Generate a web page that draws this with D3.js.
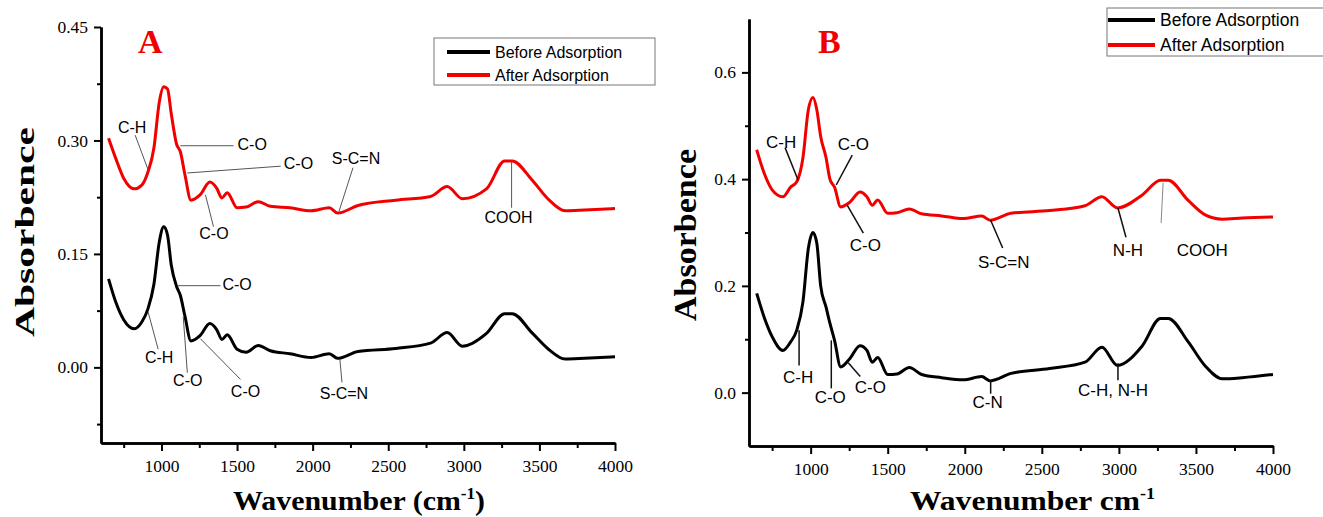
<!DOCTYPE html>
<html lang="en">
  <head>
    <meta charset="UTF-8" />
    <title>FTIR spectra before and after adsorption</title>
    <script src="https://cdnjs.cloudflare.com/ajax/libs/d3/7.8.5/d3.min.js"></script>
    <style>
      body { margin: 0; background: #fff; }
      .note { font-family: "Liberation Sans", Arial, sans-serif; }
    </style>
  </head>
  <body>
    <figure id="chart" style="margin:0"></figure>

    <script>
      /** Data (wavenumber in cm-1, absorbance) */
      const wavenumber = [650, 700, 750, 820, 870, 910, 950, 985, 1015, 1040, 1065, 1100, 1125, 1155, 1195, 1255, 1320, 1365, 1400, 1435, 1500, 1560, 1640, 1720, 1850, 1990, 2110, 2165, 2300, 2550, 2780, 2890, 2990, 3150, 3270, 3320, 3450, 3560, 3670, 3800, 4000];

      const beforeA = [0.117, 0.085, 0.063, 0.051, 0.060, 0.077, 0.110, 0.165, 0.186, 0.175, 0.135, 0.107, 0.095, 0.068, 0.035, 0.042, 0.058, 0.050, 0.037, 0.043, 0.024, 0.020, 0.029, 0.022, 0.018, 0.013, 0.018, 0.012, 0.021, 0.025, 0.032, 0.046, 0.028, 0.045, 0.071, 0.071, 0.046, 0.024, 0.011, 0.012, 0.014];
      const afterA = [0.303, 0.275, 0.250, 0.236, 0.241, 0.258, 0.290, 0.350, 0.371, 0.368, 0.335, 0.295, 0.285, 0.255, 0.221, 0.228, 0.245, 0.237, 0.224, 0.231, 0.211, 0.212, 0.219, 0.213, 0.211, 0.207, 0.211, 0.204, 0.214, 0.221, 0.226, 0.239, 0.223, 0.236, 0.273, 0.273, 0.248, 0.222, 0.207, 0.208, 0.210];
      const beforeB = [0.186, 0.140, 0.105, 0.079, 0.095, 0.117, 0.170, 0.270, 0.300, 0.280, 0.200, 0.160, 0.130, 0.098, 0.048, 0.064, 0.088, 0.079, 0.057, 0.066, 0.034, 0.035, 0.047, 0.034, 0.028, 0.024, 0.030, 0.022, 0.036, 0.045, 0.057, 0.085, 0.051, 0.087, 0.139, 0.139, 0.095, 0.050, 0.026, 0.028, 0.034];
      const afterB = [0.455, 0.410, 0.380, 0.367, 0.385, 0.395, 0.440, 0.530, 0.553, 0.530, 0.480, 0.440, 0.400, 0.385, 0.348, 0.357, 0.376, 0.367, 0.351, 0.361, 0.336, 0.337, 0.344, 0.335, 0.331, 0.326, 0.331, 0.323, 0.336, 0.341, 0.350, 0.367, 0.346, 0.370, 0.398, 0.398, 0.360, 0.333, 0.325, 0.327, 0.329];

      const seriesNames = ["Before Adsorption", "After Adsorption"];
      const xTicks = [1000, 1500, 2000, 2500, 3000, 3500, 4000];
      const xMinorTicks = [750, 1250, 1750, 2250, 2750, 3250, 3750];
      const yTicksA = [0, 0.15, 0.30, 0.45];
      const yMinorA = [-0.075, 0.075, 0.225, 0.375];
      const yTicksB = [0, 0.2, 0.4, 0.6];
      const yMinorB = [0.1, 0.3, 0.5];

      /** Band labels: text, [wavenumber, absorbance] on the curve, end of leader, text centre */
      const notesA = [
        ["C-H", [912, 0.261], [826, 0.307], [806, 0.317], "middle", "after"],
        ["C-O", [1125, 0.293], [1477, 0.293], [1503, 0.294], "start", "after"],
        ["C-O", [1171, 0.257], [1789, 0.266], [1809, 0.270], "start", "after"],
        ["C-O", [1291, 0.228], [1344, 0.186], [1347, 0.177], "middle", "after"],
        ["S-C=N", [2174, 0.206], [2267, 0.264], [2287, 0.276], "middle", "after"],
        ["COOH", [3316, 0.272], [3316, 0.211], [3296, 0.198], "middle", "after"],
        ["C-O", [1105, 0.108], [1390, 0.108], [1403, 0.109], "start", "before"],
        ["C-H", [912, 0.073], [978, 0.024], [985, 0.013], "middle", "before"],
        ["C-O", [1144, 0.067], [1171, -0.007], [1174, -0.018], "middle", "before"],
        ["C-O", [1257, 0.038], [1523, -0.016], [1556, -0.032], "middle", "before"],
        ["S-C=N", [2180, 0.011], [2194, -0.020], [2207, -0.034], "middle", "before"],
      ];
      const notesB = [
        ["C-H", [919, 0.398], [834, 0.459], [808, 0.468], "middle", "after"],
        ["C-O", [1166, 0.389], [1270, 0.445], [1277, 0.464], "middle", "after"],
        ["C-O", [1238, 0.351], [1342, 0.299], [1355, 0.276], "middle", "after"],
        ["S-C=N", [2168, 0.323], [2246, 0.271], [2253, 0.244], "middle", "after"],
        ["N-H", [2994, 0.346], [3046, 0.291], [3059, 0.267], "middle", "after"],
        ["COOH", [3287, 0.393], [3274, 0.318], [3541, 0.267], "middle", "cooh"],
        ["C-H", [925, 0.117], [925, 0.051], [919, 0.028], "middle", "before"],
        ["C-O", [1134, 0.098], [1134, 0.008], [1127, -0.009], "middle", "before"],
        ["C-O", [1244, 0.056], [1322, 0.030], [1387, 0.009], "middle", "before"],
        ["C-N", [2168, 0.023], [2168, -0.002], [2148, -0.019], "middle", "before"],
        ["C-H, N-H", [2994, 0.055], [2994, 0.023], [2962, 0.004], "middle", "before"],
      ];

      /** Layout */
      const width = 1323;
      const height = 517;
      const red = "#f20000";
      const serif = "'Liberation Serif', 'Times New Roman', serif";

      const panels = [
        {
          name: "A", left: 101, right: 615, top: 27, bottom: 443,
          yDomain: [-0.1, 0.45], yTicks: yTicksA, yMinor: yMinorA, fmt: ".2f",
          before: beforeA, after: afterA, notes: notesA, noteSize: 16,
          letter: [138, 53], yTitle: [34, 232, 28, 210], xTitle: [233, 510, 252],
          xTitleText: ["Wavenumber (cm", "-1", ")"],
          legend: { x: 434, y: 38, w: 221, h: 47, line: [447, 490], text: 495, rows: [52, 75], size: 16 },
          leader: "#555", leaderW: 1,
        },
        {
          name: "B", left: 749, right: 1273, top: 19, bottom: 446,
          yDomain: [-0.1, 0.7], yTicks: yTicksB, yMinor: yMinorB, fmt: ".1f",
          before: beforeB, after: afterB, notes: notesB, noteSize: 17,
          letter: [818, 53], yTitle: [696, 235, 31, 172], xTitle: [910, 510, 245],
          xTitleText: ["Wavenumber cm", "-1", ""],
          legend: { x: 1107, y: 8, w: 240, h: 48, line: [1108, 1155], text: 1160, rows: [20, 45], size: 17.5 },
          leader: "#111", leaderW: 1.5,
        },
      ];

      const svg = d3
        .select("#chart")
        .append("svg")
        .attr("width", width)
        .attr("height", height);

      panels.forEach((p) => {
        const xScale = d3.scaleLinear().domain([600, 4000]).range([p.left, p.right]);
        const yScale = d3.scaleLinear().domain(p.yDomain).range([p.bottom, p.top]);
        const g = svg.append("g");

        /** Axes: minor ticks first, then major ticks with labels */
        g.append("g")
          .attr("transform", `translate(0, ${p.bottom})`)
          .call(d3.axisBottom(xScale).tickValues(xMinorTicks).tickSize(5).tickFormat("").tickSizeOuter(0));
        g.append("g")
          .attr("transform", `translate(0, ${p.bottom})`)
          .call(d3.axisBottom(xScale).tickValues(xTicks).tickSize(8).tickPadding(9).tickFormat(d3.format("d")).tickSizeOuter(0));
        g.append("g")
          .attr("transform", `translate(${p.left}, 0)`)
          .call(d3.axisLeft(yScale).tickValues(p.yMinor).tickSize(4).tickFormat("").tickSizeOuter(0));
        g.append("g")
          .attr("transform", `translate(${p.left}, 0)`)
          .call(d3.axisLeft(yScale).tickValues(p.yTicks).tickSize(7).tickPadding(6).tickFormat(d3.format(p.fmt)).tickSizeOuter(0));
        g.selectAll(".domain").attr("stroke", "#000").attr("stroke-width", 2.5);
        g.selectAll(".tick line").attr("stroke", "#000").attr("stroke-width", 2);
        g.selectAll(".tick text")
          .attr("font-family", serif)
          .attr("font-size", 17.5)
          .attr("fill", "#000");

        /** Spectra */
        const line = d3
          .line()
          .x((d) => xScale(d[0]))
          .y((d) => yScale(d[1]))
          .curve(d3.curveMonotoneX);
        g.append("path")
          .attr("d", line(d3.zip(wavenumber, p.before)))
          .attr("fill", "none")
          .attr("stroke", "#000")
          .attr("stroke-width", 3)
          .attr("stroke-linejoin", "round");
        g.append("path")
          .attr("d", line(d3.zip(wavenumber, p.after)))
          .attr("fill", "none")
          .attr("stroke", red)
          .attr("stroke-width", 3)
          .attr("stroke-linejoin", "round");

        /** Band labels */
        const notes = g.selectAll(".noteg").data(p.notes).enter().append("g");
        notes
          .append("line")
          .attr("x1", (d) => xScale(d[1][0]))
          .attr("y1", (d) => yScale(d[1][1]))
          .attr("x2", (d) => xScale(d[2][0]))
          .attr("y2", (d) => yScale(d[2][1]))
          .attr("stroke", (d) => (d[5] === "cooh" ? "#888" : p.leader))
          .attr("stroke-width", (d) => (d[5] === "cooh" ? 1 : p.leaderW));
        notes
          .append("text")
          .attr("class", "note")
          .attr("x", (d) => xScale(d[3][0]))
          .attr("y", (d) => yScale(d[3][1]))
          .attr("text-anchor", (d) => d[4])
          .attr("dominant-baseline", "central")
          .attr("font-size", p.noteSize)
          .text((d) => d[0]);

        /** Panel letter */
        g.append("text")
          .attr("x", p.letter[0])
          .attr("y", p.letter[1])
          .attr("font-family", serif)
          .attr("font-weight", "bold")
          .attr("font-size", 34)
          .attr("fill", red)
          .text(p.name);

        /** Axis titles */
        g.append("text")
          .attr("transform", `translate(${p.yTitle[0]}, ${p.yTitle[1]}) rotate(-90)`)
          .attr("text-anchor", "middle")
          .attr("font-family", serif)
          .attr("font-weight", "bold")
          .attr("font-size", p.yTitle[2])
          .attr("textLength", p.yTitle[3])
          .attr("lengthAdjust", "spacingAndGlyphs")
          .text("Absorbence");

        const xt = g.append("text")
          .attr("x", p.xTitle[0])
          .attr("y", p.xTitle[1])
          .attr("font-family", serif)
          .attr("font-weight", "bold")
          .attr("font-size", 28)
          .attr("textLength", p.xTitle[2])
          .attr("lengthAdjust", "spacingAndGlyphs");
        xt.append("tspan").text(p.xTitleText[0]);
        xt.append("tspan").attr("font-size", 16).attr("dy", -11).text(p.xTitleText[1]);
        xt.append("tspan").attr("dy", 11).text(p.xTitleText[2]);

        /** Legend */
        const lg = p.legend;
        g.append("rect")
          .attr("x", lg.x)
          .attr("y", lg.y)
          .attr("width", lg.w)
          .attr("height", lg.h)
          .attr("fill", "#fff")
          .attr("stroke", "#777")
          .attr("stroke-width", 1);
        const items = g.selectAll(".legend").data(seriesNames).enter().append("g");
        items
          .append("line")
          .attr("x1", lg.line[0])
          .attr("x2", lg.line[1])
          .attr("y1", (d, i) => lg.rows[i])
          .attr("y2", (d, i) => lg.rows[i])
          .attr("stroke", (d, i) => (i === 0 ? "#000" : red))
          .attr("stroke-width", 4);
        items
          .append("text")
          .attr("class", "note")
          .attr("x", lg.text)
          .attr("y", (d, i) => lg.rows[i])
          .attr("dominant-baseline", "central")
          .attr("font-size", lg.size)
          .text((d) => d);
      });
    </script>
  </body>
</html>
